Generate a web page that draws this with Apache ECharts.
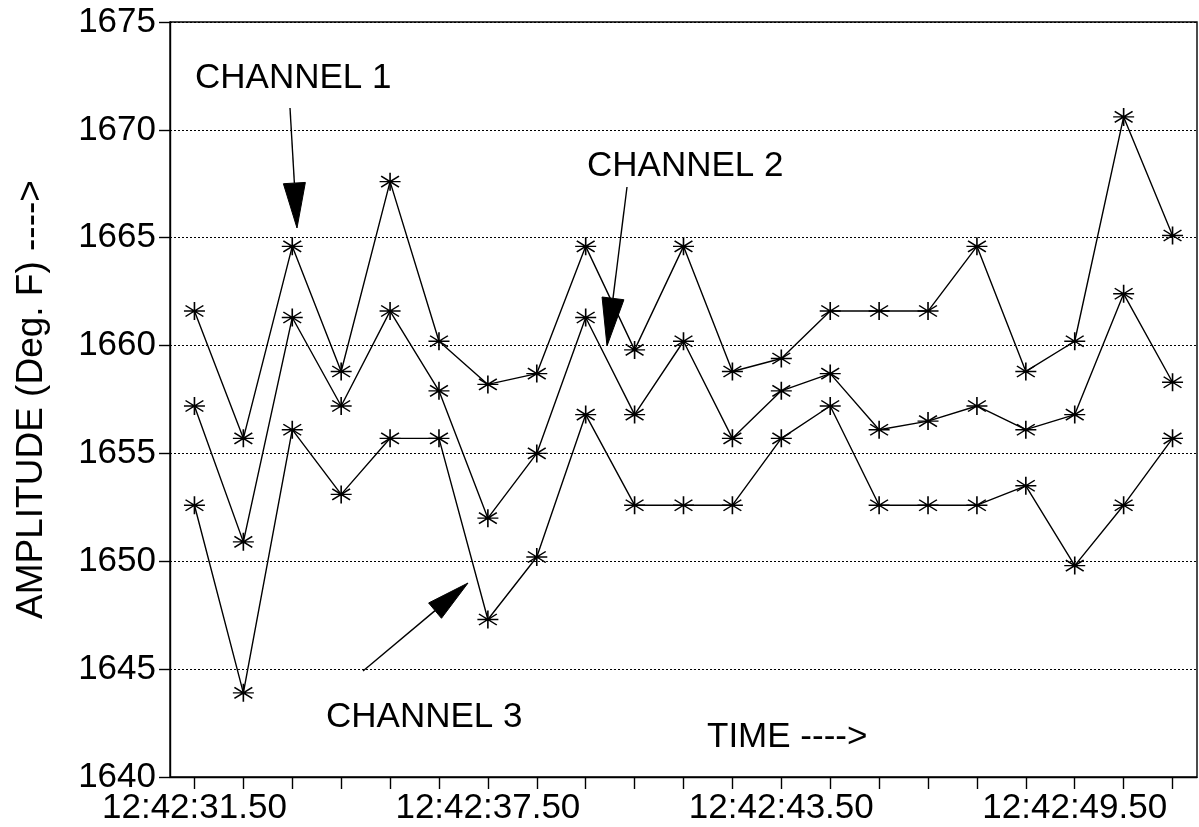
<!DOCTYPE html>
<html>
<head>
<meta charset="utf-8">
<script src="https://cdn.jsdelivr.net/npm/echarts@6/dist/echarts.min.js"></script>
<style>
html,body{margin:0;padding:0;background:#fff;}
#chart{width:1199px;height:827px;}
</style>
</head>
<body>
<div id="chart"></div>
<script>
const categories = ['12:42:31.50','12:42:32.50','12:42:33.50','12:42:34.50','12:42:35.50','12:42:36.50',
  '12:42:37.50','12:42:38.50','12:42:39.50','12:42:40.50','12:42:41.50','12:42:42.50',
  '12:42:43.50','12:42:44.50','12:42:45.50','12:42:46.50','12:42:47.50','12:42:48.50',
  '12:42:49.50','12:42:50.50','12:42:51.50'];
const channel1 = [1661.6,1655.7,1664.6,1658.8,1667.6,1660.2,1658.2,1658.7,1664.6,1659.8,1664.6,1658.8,
  1659.4,1661.6,1661.6,1661.6,1664.6,1658.8,1660.2,1670.6,1665.1];
const channel2 = [1657.2,1650.9,1661.3,1657.2,1661.6,1657.9,1652.0,1655.0,1661.3,1656.8,1660.2,1655.7,
  1657.9,1658.7,1656.1,1656.5,1657.2,1656.1,1656.8,1662.4,1658.3];
const channel3 = [1652.6,1643.9,1656.1,1653.1,1655.7,1655.7,1647.3,1650.2,1656.8,1652.6,1652.6,1652.6,
  1655.7,1657.2,1652.6,1652.6,1652.6,1653.5,1649.8,1652.6,1655.7];
const yTicks = {min:1640, max:1675, step:5};

const FONT = '"Liberation Sans", Arial, Helvetica, sans-serif';
const star = 'path://M10,0L10,18M0,9L20,9M1.5,3.5L18.5,14.5M1.5,14.5L18.5,3.5';

function mkSeries(name, data){
  return {
    name: name, type:'line', data: data,
    symbol: star, symbolSize:[21,18],
    showAllSymbol: true,
    lineStyle:{color:'#000', width:1.4},
    itemStyle:{color:'#000', borderColor:'#000', borderWidth:1.5},
    emphasis:{disabled:true},
    animation:false,
    z:3
  };
}

function arrow(x1,y1,x2,y2,len,hw){
  const dx=x2-x1, dy=y2-y1, d=Math.sqrt(dx*dx+dy*dy);
  const ux=dx/d, uy=dy/d;
  const bx=x2-ux*len, by=y2-uy*len;
  const px=-uy*hw, py=ux*hw;
  return [
    {type:'line', shape:{x1:x1,y1:y1,x2:bx,y2:by}, style:{stroke:'#000', lineWidth:1.4}, z:10},
    {type:'polygon', shape:{points:[[x2,y2],[bx+px,by+py],[bx-px,by-py]]}, style:{fill:'#000', stroke:'#000', lineWidth:1}, z:10}
  ];
}
function label(text,x,y){
  return {type:'text', x:x, y:y, style:{text:text, fill:'#000', font:'35px '+FONT, textVerticalAlign:'middle', textAlign:'left'}, z:10};
}

const chart = echarts.init(document.getElementById('chart'), null, {renderer:'canvas'});
chart.setOption({
  animation:false,
  backgroundColor:'#fff',
  grid:{left:170, right:2, top:22, bottom:50, show:true, borderColor:'#000', borderWidth:1.4, backgroundColor:'transparent'},
  xAxis:{
    type:'category', data:categories, boundaryGap:true,
    axisLine:{lineStyle:{color:'#000', width:1.4}},
    axisTick:{show:true, alignWithLabel:true, interval:0, length:12, lineStyle:{color:'#000', width:1.4}},
    axisLabel:{interval:5, color:'#000', fontSize:35, fontFamily:FONT, margin:14},
    splitLine:{show:false}
  },
  yAxis:{
    type:'value', min:yTicks.min, max:yTicks.max, interval:yTicks.step,
    name:'AMPLITUDE (Deg. F) ---->', nameLocation:'middle', nameGap:120,
    nameTextStyle:{color:'#000', fontSize:37, fontFamily:FONT},
    axisLine:{show:true, lineStyle:{color:'#000', width:1.4}},
    axisTick:{show:true, inside:false, length:11, lineStyle:{color:'#000', width:1.4}},
    axisLabel:{color:'#000', fontSize:35, fontFamily:FONT, margin:14, formatter:function(v){return String(v);}},
    splitLine:{show:true, lineStyle:{color:'#000', width:1, type:[2,2]}}
  },
  series:[mkSeries('Channel 1',channel1), mkSeries('Channel 2',channel2), mkSeries('Channel 3',channel3)],
  graphic:[].concat(
    [label('CHANNEL 1',195,78), label('CHANNEL 2',587,166), label('CHANNEL 3',326,717), label('TIME ---->',707,737)],
    arrow(290,108,297,228,45,11),
    arrow(627,187,607,346,48,11),
    arrow(363,671,468,583,43,10)
  )
});
</script>
</body>
</html>
